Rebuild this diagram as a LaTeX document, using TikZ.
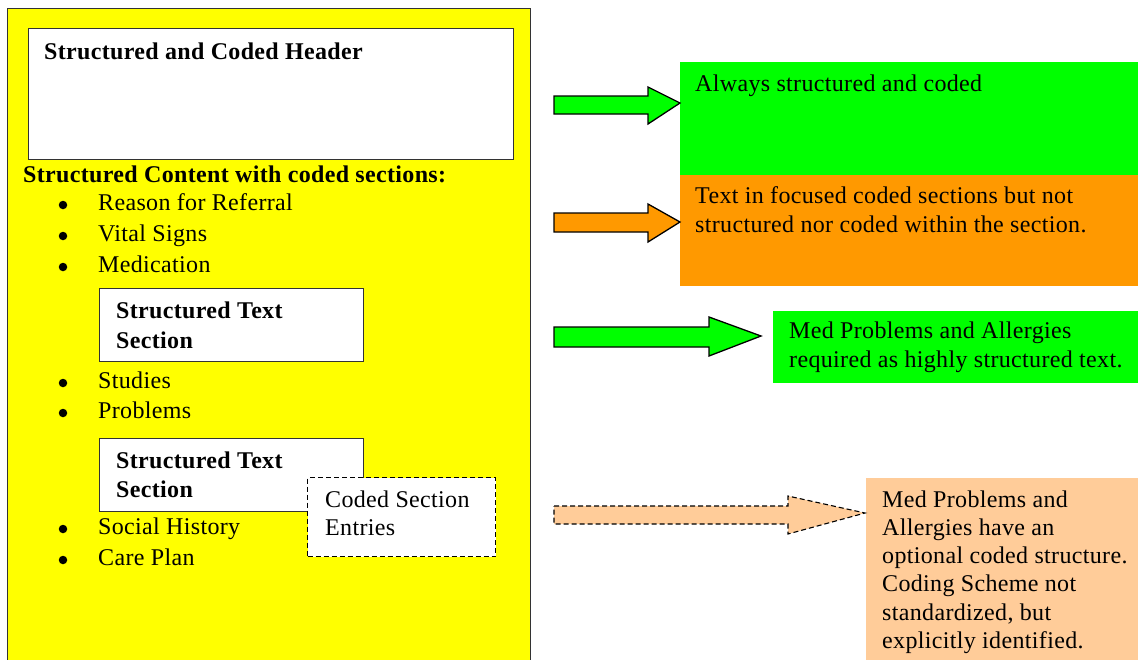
\documentclass[tikz,border=0pt]{standalone}
\usepackage{fontspec}
\setmainfont[LetterSpace=1.4]{Liberation Serif}
\definecolor{ylw}{HTML}{FFFF00}
\definecolor{grn}{HTML}{00FF00}
\definecolor{org}{HTML}{FF9900}
\definecolor{pch}{HTML}{FFCC99}
\definecolor{edge}{HTML}{333333}
\begin{document}
\begin{tikzpicture}[x=1pt,y=-1pt,
  txt/.style={anchor=base west,inner sep=0pt,font=\fontsize{24}{29}\selectfont},
  btxt/.style={anchor=base west,inner sep=0pt,font=\fontsize{24}{29}\selectfont\bfseries},
  bul/.style={circle,fill=black,inner sep=0pt,minimum size=8.5pt},
  box/.style={draw=edge,line width=1.4pt,fill=white,anchor=north west,inner sep=0pt},
  panel/.style={anchor=north west,inner sep=0pt,draw=none},
  blk/.style={draw=black,line width=1.3pt,line join=miter}]
\useasboundingbox (0,0) rectangle (1138,659);
\clip (0,0) rectangle (1138,659);
% yellow container
\node[box,fill=ylw,minimum width=523pt,minimum height=670pt] (doc) at (7,8) {};
% header box
\node[box,minimum width=485pt,minimum height=131pt] (hdr) at (28,28) {};
\node[btxt] (hdrt) at (44,59) {Structured and Coded Header};
\node[btxt] (sc) at (23,182) {Structured Content with coded sections:};
% bullets
\node[bul] (b1) at (63,205) {};
\node[txt] (t1) at (98,210) {Reason for Referral};
\node[bul] (b2) at (63,236) {};
\node[txt] (t2) at (98,241) {Vital Signs};
\node[bul] (b3) at (63,267) {};
\node[txt] (t3) at (98,272) {Medication};
\node[box,minimum width=264pt,minimum height=73pt] (st1) at (99,288) {};
\node[btxt] (st1a) at (116,318) {Structured Text};
\node[btxt] (st1b) at (116,348) {Section};
\node[bul] (b4) at (63,383) {};
\node[txt] (t4) at (98,388) {Studies};
\node[bul] (b5) at (63,413) {};
\node[txt] (t5) at (98,418) {Problems};
\node[box,minimum width=264pt,minimum height=73pt] (st2) at (99,438) {};
\node[btxt] (st2a) at (116,468) {Structured Text};
\node[btxt] (st2b) at (116,497) {Section};
\node[bul] (b6) at (63,529) {};
\node[txt] (t6) at (98,534) {Social History};
\node[bul] (b7) at (63,560) {};
\node[txt] (t7) at (98,565) {Care Plan};
\node[box,draw=black,dashed,dash pattern=on 5pt off 3pt,line width=1.3pt,minimum width=188pt,minimum height=79pt] (cse) at (307,477) {};
\node[txt] (csea) at (325,507) {Coded Section};
\node[txt] (cseb) at (325,535) {Entries};
% right panels
\node[panel,fill=grn,minimum width=470pt,minimum height=113pt] (g1) at (680,62) {};
\node[txt] (g1t) at (695,91) {Always structured and coded};
\node[panel,fill=org,minimum width=470pt,minimum height=111pt] (o1) at (680,175) {};
\node[txt] (o1a) at (695,203) {Text in focused coded sections but not};
\node[txt] (o1b) at (695,232) {structured nor coded within the section.};
\node[panel,fill=grn,minimum width=380pt,minimum height=72pt] (g2) at (773,311) {};
\node[txt] (g2a) at (789,338) {Med Problems and Allergies};
\node[txt] (g2b) at (789,367) {required as highly structured text.};
\node[panel,fill=pch,minimum width=290pt,minimum height=200pt] (p1) at (866,478) {};
\node[txt] (p1a) at (882,507) {Med Problems and};
\node[txt] (p1b) at (882,535) {Allergies have an};
\node[txt] (p1c) at (882,563) {optional coded structure.};
\node[txt] (p1d) at (882,591) {Coding Scheme not};
\node[txt] (p1e) at (882,620) {standardized, but};
\node[txt] (p1f) at (882,648) {explicitly identified.};
% block arrows
\draw[blk,fill=grn] (554,96) -- (648,96) -- (648,87) -- (680,103) -- (648,124) -- (648,114) -- (554,114) -- cycle;
\draw[blk,fill=org] (554,213) -- (648,213) -- (648,204) -- (680,222) -- (648,242) -- (648,232) -- (554,232) -- cycle;
\draw[blk,fill=grn] (554,327) -- (709,327) -- (709,317) -- (761,336) -- (709,356) -- (709,347) -- (554,347) -- cycle;
\draw[blk,fill=pch,dashed,dash pattern=on 5pt off 3pt,line width=1.1pt] (554,506) -- (788,506) -- (788,496) -- (865,513) -- (788,534) -- (788,524) -- (554,524) -- cycle;
\end{tikzpicture}
\end{document}
